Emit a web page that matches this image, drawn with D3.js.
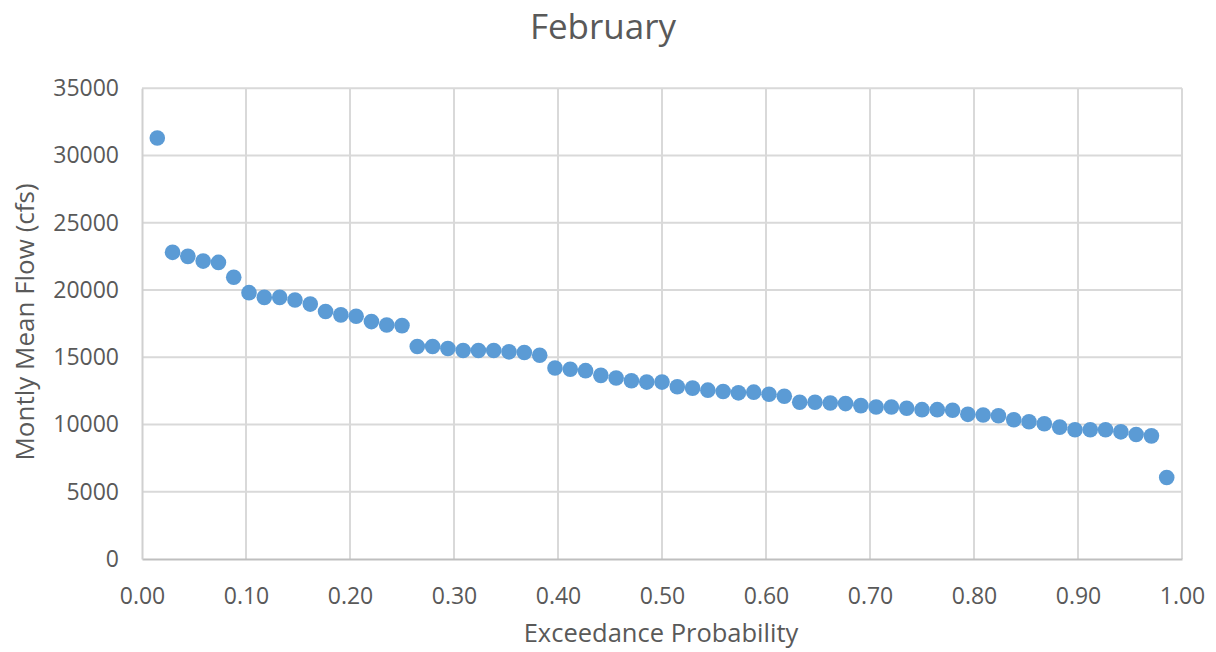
<!DOCTYPE html>
<html>
<head>
<meta charset="utf-8">
<script src="https://cdn.jsdelivr.net/npm/d3@7"></script>
<style>
  html, body { margin: 0; padding: 0; background: #fff; }
  svg { display: block; font-family: "Open Sans", "Liberation Sans", sans-serif; }
</style>
</head>
<body>
<svg id="chart" width="1216" height="652"></svg>
<script>
const title = "February";
const xTitle = "Exceedance Probability";
const yTitle = "Montly Mean Flow (cfs)";

const exceedance = [0.0147, 0.0294, 0.0441, 0.0588, 0.0735, 0.0882, 0.1029, 0.1176, 0.1324, 0.1471,
  0.1618, 0.1765, 0.1912, 0.2059, 0.2206, 0.2353, 0.2500, 0.2647, 0.2794, 0.2941,
  0.3088, 0.3235, 0.3382, 0.3529, 0.3676, 0.3824, 0.3971, 0.4118, 0.4265, 0.4412,
  0.4559, 0.4706, 0.4853, 0.5000, 0.5147, 0.5294, 0.5441, 0.5588, 0.5735, 0.5882,
  0.6029, 0.6176, 0.6324, 0.6471, 0.6618, 0.6765, 0.6912, 0.7059, 0.7206, 0.7353,
  0.7500, 0.7647, 0.7794, 0.7941, 0.8088, 0.8235, 0.8382, 0.8529, 0.8676, 0.8824,
  0.8971, 0.9118, 0.9265, 0.9412, 0.9559, 0.9706, 0.9853];

const flow = [31300, 22800, 22500, 22150, 22050, 20950, 19800, 19450, 19450, 19250,
  18950, 18400, 18150, 18050, 17650, 17400, 17350, 15800, 15800, 15650,
  15500, 15500, 15500, 15400, 15350, 15150, 14200, 14100, 14000, 13650,
  13450, 13250, 13150, 13150, 12800, 12700, 12550, 12450, 12350, 12400,
  12250, 12100, 11650, 11650, 11600, 11550, 11400, 11300, 11300, 11200,
  11100, 11100, 11050, 10750, 10700, 10650, 10350, 10200, 10050, 9800,
  9600, 9600, 9600, 9450, 9250, 9150, 6050];

const xTicks = [0, 0.1, 0.2, 0.3, 0.4, 0.5, 0.6, 0.7, 0.8, 0.9, 1.0];
const yTicks = [0, 5000, 10000, 15000, 20000, 25000, 30000, 35000];

const svg = d3.select("#chart");
const pLeft = 142, pRight = 1182, pTop = 88.3, pBottom = 558.9;
const font = '"Open Sans", "Liberation Sans", sans-serif';

const x = d3.scaleLinear().domain([0, 1]).range([pLeft, pRight]);
const y = d3.scaleLinear().domain([0, 35000]).range([pBottom, pTop]);

const textColor = "#595959";
const gridColor = "#d9d9d9";

// gridlines
svg.append("g").selectAll("line").data(yTicks.filter(d => d > 0)).join("line")
  .attr("x1", pLeft).attr("x2", pRight)
  .attr("y1", d => y(d)).attr("y2", d => y(d))
  .attr("stroke", gridColor).attr("stroke-width", 2);
svg.append("g").selectAll("line").data(xTicks.filter(d => d > 0)).join("line")
  .attr("y1", pTop).attr("y2", pBottom)
  .attr("x1", d => x(d)).attr("x2", d => x(d))
  .attr("stroke", gridColor).attr("stroke-width", 2);

// axes
const xAxis = d3.axisBottom(x).tickValues(xTicks).tickFormat(d3.format(".2f")).tickSize(0).tickPadding(29);
const gx = svg.append("g").attr("transform", `translate(0,${pBottom})`).call(xAxis)
  .attr("font-family", font).attr("font-size", 23);
gx.select(".domain").attr("stroke", "#bfbfbf").attr("stroke-width", 2);
gx.selectAll("text").attr("fill", textColor);

const yAxis = d3.axisLeft(y).tickValues(yTicks).tickFormat(d3.format("d")).tickSize(0).tickPadding(23);
const gy = svg.append("g").attr("transform", `translate(${pLeft},0)`).call(yAxis)
  .attr("font-family", font).attr("font-size", 23);
gy.select(".domain").attr("stroke", "#d0d0d0").attr("stroke-width", 2);
gy.selectAll("text").attr("fill", textColor);

// points
svg.append("g").selectAll("circle").data(exceedance.map((p, i) => [p, flow[i]])).join("circle")
  .attr("cx", d => x(d[0])).attr("cy", d => y(d[1]))
  .attr("r", 7.8).attr("fill", "#5b9bd5");

// titles
svg.append("text").attr("x", 603).attr("y", 39).attr("text-anchor", "middle")
  .attr("fill", textColor).style("font-size", "35px").text(title);
svg.append("text").attr("x", 661).attr("y", 642).attr("text-anchor", "middle")
  .attr("fill", textColor).style("font-size", "25.5px").text(xTitle);
svg.append("text").attr("transform", `translate(34,322) rotate(-90)`)
  .attr("text-anchor", "middle").attr("fill", textColor).style("font-size", "26px").text(yTitle);
</script>
</body>
</html>
